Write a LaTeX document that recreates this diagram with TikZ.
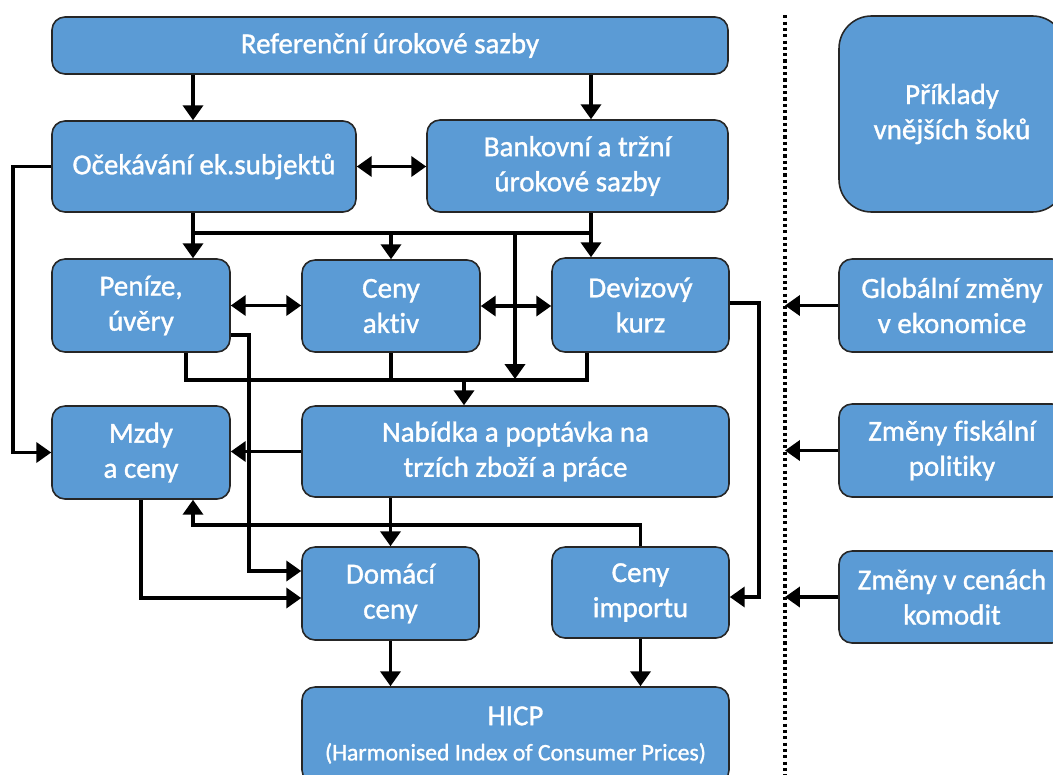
\documentclass[tikz,border=0pt]{standalone}
\usepackage{fontspec}
\setmainfont{Carlito}[Ligatures=NoCommon, RawFeature={embolden=1.2}]
\usetikzlibrary{arrows.meta,calc}
\definecolor{boxblue}{HTML}{5B9BD5}
\begin{document}
\begin{tikzpicture}[x=0.02cm,y=-0.02cm,
  box/.style={draw=black!85, line width=0.9pt, fill=boxblue, rounded corners=0.26cm,
    text=white, align=center, font=\fontsize{16.5}{20}\selectfont, inner sep=0pt},
  bigbox/.style={box, rounded corners=0.65cm},
  pbox/.style 2 args={minimum width=#1*0.02cm, minimum height=#2*0.02cm},
  conn/.style={line width=1.8pt},
  arr/.style={conn, -{Triangle[width=11.5pt,length=8.5pt]}},
  darr/.style={conn, {Triangle[width=11.5pt,length=8.5pt]}-{Triangle[width=11.5pt,length=8.5pt]}}]
\useasboundingbox (0,0) rectangle (1053,774);
\clip (0,0) rectangle (1053,774);

% boxes
\node[box, pbox={676}{57}] (ref) at (390,45.5) {Referenční úrokové sazby};
\node[box, pbox={304}{91}] (oce) at (204,166.5) {Očekávání ek.subjektů};
\node[box, pbox={301}{92}] (ban) at (577.5,166) {Bankovní a tržní\\úrokové sazby};
\node[box, pbox={178}{93}] (pen) at (141,305.5) {Peníze,\\úvěry};
\node[box, pbox={178}{92}] (cak) at (391,306) {Ceny\\aktiv};
\node[box, pbox={177}{94}] (dev) at (640.5,305) {Devizový\\kurz};
\node[box, pbox={178}{93}] (mzd) at (141,452.5) {Mzdy\\a ceny};
\node[box, pbox={427}{91}] (nab) at (515.5,451.5) {Nabídka a poptávka na\\trzích zboží a práce};
\node[box, pbox={177}{93}] (dom) at (390.5,593.5) {Domácí\\ceny};
\node[box, pbox={177}{91}] (imp) at (640.5,592.5) {Ceny\\importu};
\node[box, pbox={427}{96}] (hicp) at (515.5,735) {HICP\\{\fontsize{13.5}{17}\selectfont (Harmonised Index of Consumer Prices)}};

\node[bigbox, pbox={226}{196}] (pri) at (952,114) {Příklady\\vnějších šoků};
\node[box, pbox={226}{93}] (glo) at (952,305.5) {Globální změny\\v ekonomice};
\node[box, pbox={226}{93}] (fis) at (952,450.5) {Změny fiskální\\politiky};
\node[box, pbox={226}{92}] (kom) at (952,597) {Změny v cenách\\komodit};

% helper coordinates
\coordinate (p1) at (193,0);
\coordinate (p3) at (591,0);
\coordinate (bus1) at (0,233);
\coordinate (bus2) at (0,380);
\coordinate (bus3) at (0,525);
\coordinate (v) at (515,0);
\coordinate (q1) at (186,0);
\coordinate (q3) at (587,0);
\coordinate (q4) at (464,0);
\coordinate (L) at (13,0);
\coordinate (c9) at (249,0);
\coordinate (R) at (759,0);
\coordinate (D) at (785,0);

% dotted separator
\draw[line width=1.8pt, dash pattern=on 1.8pt off 1.8pt] (D |- pri.north) -- (785,790);

% top
\draw[arr] (ref.south -| p1) -- (oce.north -| p1);
\draw[arr] (ref.south -| p3) -- (ban.north -| p3);
\draw[darr] (oce.east) -- (oce.east -| ban.west);

% distribution bus
\draw[conn] (oce.south -| p1) -- (p1 |- bus1);
\draw[conn] (ban.south -| p3) -- (p3 |- bus1);
\draw[conn] (p1 |- bus1) -- (p3 |- bus1);
\draw[arr] (p1 |- bus1) -- (pen.north -| p1);
\draw[arr] (cak.north |- bus1) -- (cak.north);
\draw[arr] (p3 |- bus1) -- (dev.north -| p3);
\draw[arr] (v |- bus1) -- ($(v |- bus2)+(0,-1)$);

% middle row links
\draw[darr] (pen.east) -- (pen.east -| cak.west);
\draw[darr] (cak.east) -- (cak.east -| dev.west);

% collecting bus
\draw[conn] (pen.south -| q1) -- (q1 |- bus2) -- (q3 |- bus2) -- (dev.south -| q3);
\draw[conn] (cak.south) -- (cak.south |- bus2);
\draw[arr] (q4 |- bus2) -- (nab.north -| q4);

% left loops
\draw[arr] (oce.west) -- (oce.west -| L) |- (mzd.west);
\draw[arr] ($(pen.east)+(0,29.5)$) -| ($(c9 |- dom.west)+(0,-22.5)$) -- ($(dom.west)+(0,-22.5)$);
\draw[arr] (nab.west) -- (nab.west -| mzd.east);
\draw[arr] (mzd.south) |- ($(dom.west)+(0,4.5)$);
\draw[arr] (dom.north |- nab.south) -- (dom.north);
\draw[arr] (imp.north) -- (imp.north |- bus3) -| (mzd.south -| p1);
\draw[arr] ($(dev.east)+(0,-2)$) -| ($(R |- imp.east)+(0,4.5)$) -- ($(imp.east)+(0,4.5)$);

% to HICP
\draw[arr] (dom.south) -- (dom.south |- hicp.north);
\draw[arr] (imp.south) -- (imp.south |- hicp.north);

% external shocks
\draw[arr] (glo.west) -- (glo.west -| D);
\draw[arr] (fis.west) -- (fis.west -| D);
\draw[arr] (kom.west) -- (kom.west -| D);
\end{tikzpicture}
\end{document}
